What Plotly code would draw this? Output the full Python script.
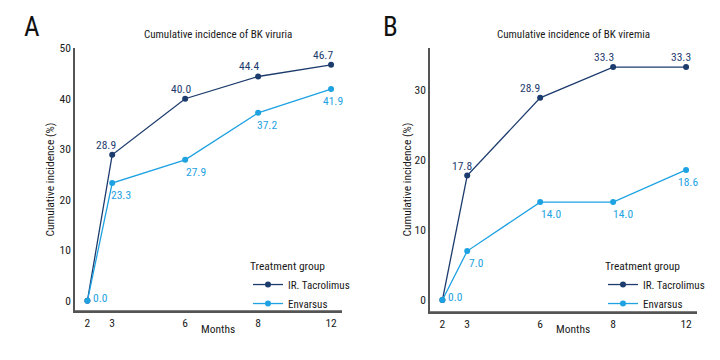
import plotly.graph_objects as go

# ---- data ----
months = [2, 3, 6, 8, 12]
series_names = ["IR. Tacrolimus", "Envarsus"]

viruria_ir = [0.0, 28.9, 40.0, 44.4, 46.7]
viruria_env = [0.0, 23.3, 27.9, 37.2, 41.9]

viremia_ir = [0.0, 17.8, 28.9, 33.3, 33.3]
viremia_env = [0.0, 7.0, 14.0, 14.0, 18.6]

titles = ["Cumulative incidence of BK viruria", "Cumulative incidence of BK viremia"]
panel_letters = ["A", "B"]

# axis scale: months on an ordinal-like scale (2 sits just before 3)
month_scale = {2: 0.66, 3: 1, 6: 2, 8: 3, 12: 4}
xpos = [month_scale[m] for m in months]

FONT = "Roboto Condensed, Liberation Sans Narrow, sans-serif"
FS = 11.5
NAVY = "#1d3c6e"
LIGHT = "#1ea2e2"
AXIS = "#555555"
TXT = "#1a1a1a"

fig = go.Figure()

panels = [
    dict(ir=viruria_ir, env=viruria_env, xa="x", ya="y", legend="legend",
         yrange=[-2, 50], ytick=[0, 10, 20, 30, 40, 50],
         ir_dx=[0, -6, -4, -9, -8], ir_show=[False, True, True, True, True],
         env_dx=[13, 9, 11, 9, 2], env_dy=[3, -12, -12, -12, -12]),
    dict(ir=viremia_ir, env=viremia_env, xa="x2", ya="y2", legend="legend2",
         yrange=[-1.7, 36], ytick=[0, 10, 20, 30],
         ir_dx=[0, -5, -10, -9, -5], ir_show=[False, True, True, True, True],
         env_dx=[13, 9, 11, 10, 2], env_dy=[3, -12, -12, -12, -12]),
]
xdom = [[75 / 720, 342 / 720], [430 / 720, 697 / 720]]
ydom = [[50 / 360, 318 / 360], [49 / 360, 318 / 360]]

annotations = []
shapes = []
for i, p in enumerate(panels):
    for name, vals, col in [(series_names[0], p["ir"], NAVY), (series_names[1], p["env"], LIGHT)]:
        fig.add_trace(go.Scatter(
            x=xpos, y=vals, name=name, mode="lines+markers",
            line=dict(color=col, width=1.3), marker=dict(color=col, size=6),
            xaxis=p["xa"], yaxis=p["ya"], legend=p["legend"],
            showlegend=True, cliponaxis=False,
        ))
    for j, v in enumerate(p["ir"]):
        if p["ir_show"][j]:
            annotations.append(dict(x=xpos[j], y=v, xref=p["xa"], yref=p["ya"],
                                    text=f"{v:.1f}", showarrow=False,
                                    xanchor="center", yanchor="bottom",
                                    xshift=p["ir_dx"][j], yshift=1,
                                    font=dict(family=FONT, size=11.5, color=NAVY)))
    for j, v in enumerate(p["env"]):
        annotations.append(dict(x=xpos[j], y=v, xref=p["xa"], yref=p["ya"],
                                text=f"{v:.1f}", showarrow=False,
                                xanchor="center", yanchor="middle",
                                xshift=p["env_dx"][j], yshift=p["env_dy"][j],
                                font=dict(family=FONT, size=11.5, color=LIGHT)))
    # bottom axis line of each panel (paper coordinates)
    shapes.append(dict(type="line", xref="paper", yref="paper",
                       x0=xdom[i][0], x1=xdom[i][1], y0=ydom[i][0], y1=ydom[i][0],
                       line=dict(color=AXIS, width=1.5), layer="above"))

title_x = [218 / 720, 573 / 720]
letter_x = [32 / 720, 391 / 720]
ytitle_x = [50 / 720, 407 / 720]
for i in range(2):
    annotations.append(dict(x=title_x[i], y=1 - 28 / 360, xref="paper", yref="paper",
                            text=titles[i], showarrow=False, xanchor="center", yanchor="middle",
                            font=dict(family=FONT, size=11, color=TXT)))
    annotations.append(dict(x=letter_x[i], y=1 - 20 / 360, xref="paper", yref="paper",
                            text=panel_letters[i], showarrow=False, xanchor="center", yanchor="middle",
                            font=dict(family=FONT, size=27, color="#111111")))
    annotations.append(dict(x=ytitle_x[i], y=1 - 176 / 360, xref="paper", yref="paper",
                            text="Cumulative incidence (%)", showarrow=False, textangle=-90,
                            xanchor="center", yanchor="middle",
                            font=dict(family=FONT, size=FS, color=TXT)))
    annotations.append(dict(x=title_x[i], y=1 - 328 / 360, xref="paper", yref="paper",
                            text="Months", showarrow=False, xanchor="center", yanchor="middle",
                            font=dict(family=FONT, size=FS, color=TXT)))

xaxis_common = dict(range=[0.49, 4.15], tickvals=xpos, ticktext=[str(m) for m in months],
                    showgrid=False, zeroline=False, showline=True, linecolor=AXIS, linewidth=1.5,
                    ticks="", tickfont=dict(family=FONT, size=FS, color=TXT))
yaxis_common = dict(showgrid=False, zeroline=False, showline=True, linecolor=AXIS, linewidth=1.5,
                    ticks="", tickfont=dict(family=FONT, size=FS, color=TXT))

legend_common = dict(xanchor="left", yanchor="top", bgcolor="rgba(0,0,0,0)",
                     font=dict(family=FONT, size=11, color=TXT),
                     title=dict(text="Treatment group", font=dict(family=FONT, size=FS, color=TXT)),
                     itemwidth=30, tracegroupgap=0)

fig.update_layout(
    width=720, height=360, margin=dict(l=0, r=0, t=0, b=0),
    paper_bgcolor="white", plot_bgcolor="white",
    font=dict(family=FONT),
    xaxis=dict(domain=xdom[0], anchor="y", **xaxis_common),
    yaxis=dict(domain=ydom[0], anchor="x", range=panels[0]["yrange"],
               tickvals=panels[0]["ytick"], **yaxis_common),
    xaxis2=dict(domain=xdom[1], anchor="y2", **xaxis_common),
    yaxis2=dict(domain=ydom[1], anchor="x2", range=panels[1]["yrange"],
                tickvals=panels[1]["ytick"], **yaxis_common),
    legend=dict(x=248 / 720, y=1 - 253 / 360, **legend_common),
    legend2=dict(x=603 / 720, y=1 - 253 / 360, **legend_common),
    annotations=annotations,
    shapes=shapes,
)

fig.write_html("out.html", config={"displayModeBar": False},
               post_script="document.body.style.margin='0';")
